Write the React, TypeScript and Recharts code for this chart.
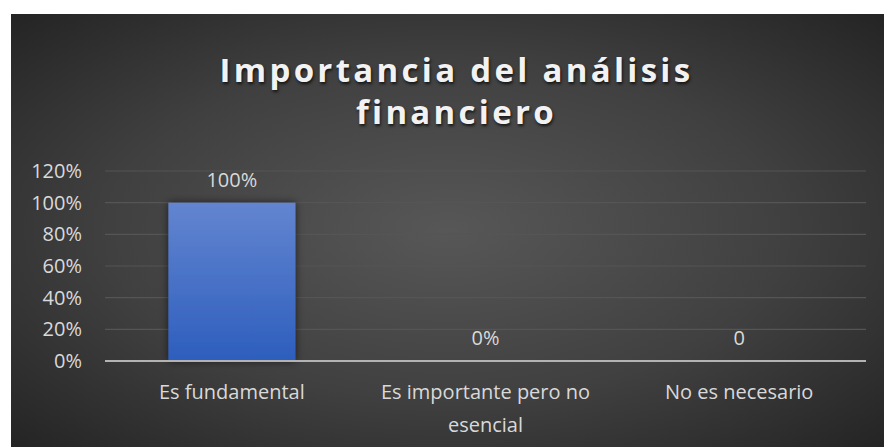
import React from "react";
import { ComposedChart, Bar, Line, XAxis, YAxis, CartesianGrid, LabelList } from "recharts";

const categories = ["Es fundamental", "Es importante pero no esencial", "No es necesario"];
const values = [1, 0, 0];
const valueLabels = ["100%", "0%", "0"];
const yTicks = [0, 0.2, 0.4, 0.6, 0.8, 1, 1.2];
const title = ["Importancia del análisis", "financiero"];

const data = categories.map((c, i) => ({ name: c, value: values[i], label: valueLabels[i] }));

const FONT = "'Open Sans', 'Noto Sans', sans-serif";
const TXT = "#d9d9d9";
const W = 873;
const H = 433;

const XTick = (props: any) => {
  const { x, y, payload } = props;
  const words = String(payload.value).split(" ");
  const lines: string[] = [];
  let cur = "";
  for (const w of words) {
    const t = cur ? cur + " " + w : w;
    if (t.length > 21 && cur) {
      lines.push(cur);
      cur = w;
    } else cur = t;
  }
  if (cur) lines.push(cur);
  return (
    <g transform={`translate(${x},${y})`}>
      {lines.map((l, i) => (
        <text key={i} x={0} y={30 + i * 33} textAnchor="middle" fill={TXT} fontSize={20} fontFamily={FONT}>
          {l}
        </text>
      ))}
    </g>
  );
};

export default function App() {
  return (
    <div
      style={{
        position: "absolute",
        left: 11,
        top: 14,
        width: W,
        height: H,
        overflow: "hidden",
        background: "radial-gradient(ellipse at 50% 50%, #575757 0%, #404040 55%, #242424 100%)",
      }}
    >
      <div
        style={{
          position: "absolute",
          left: 9,
          top: 35,
          width: W,
          textAlign: "center",
          color: "#f2f2f2",
          fontFamily: FONT,
          fontWeight: 700,
          fontSize: 33,
          lineHeight: "42px",
          letterSpacing: 3.3,
          textShadow: "1px 2px 3px rgba(0,0,0,0.7)",
        }}
      >
        {title.map((t, i) => (
          <div key={i}>{t}</div>
        ))}
      </div>
      <ComposedChart
        width={W}
        height={H}
        data={data}
        margin={{ top: 157, right: 18, bottom: 26, left: 24 }}
        barCategoryGap="25%"
        style={{ position: "absolute", left: 0, top: 0 }}
      >
        <defs>
          <linearGradient id="barGrad" x1="0" y1="0" x2="0" y2="1">
            <stop offset="0%" stopColor="#6385d0" />
            <stop offset="100%" stopColor="#2d5ebd" />
          </linearGradient>
          <filter id="shadow" x="-20%" y="-10%" width="140%" height="120%">
            <feDropShadow dx="0" dy="0" stdDeviation="4" floodColor="#000" floodOpacity="0.6" />
          </filter>
        </defs>
        <CartesianGrid vertical={false} stroke="#555555" strokeWidth={1.2} />
        <XAxis
          dataKey="name"
          axisLine={{ stroke: "#b3b3b3", strokeWidth: 2 }}
          tickLine={false}
          interval={0}
          height={60}
          tick={<XTick />}
        />
        <YAxis
          domain={[0, 1.2]}
          ticks={yTicks}
          tickFormatter={(v: number) => `${Math.round(v * 100)}%`}
          axisLine={false}
          tickLine={false}
          width={70}
          tickSize={6}
          tickMargin={17}
          tick={{ fill: TXT, fontSize: 20, fontFamily: FONT }}
        />
        <Bar dataKey="value" isAnimationActive={false} fill="url(#barGrad)" filter="url(#shadow)" />
        <Line
          dataKey="value"
          stroke="none"
          dot={false}
          activeDot={false}
          isAnimationActive={false}
        >
          <LabelList dataKey="label" position="top" offset={16} fill={TXT} fontSize={20} fontFamily={FONT} />
        </Line>
      </ComposedChart>
    </div>
  );
}
